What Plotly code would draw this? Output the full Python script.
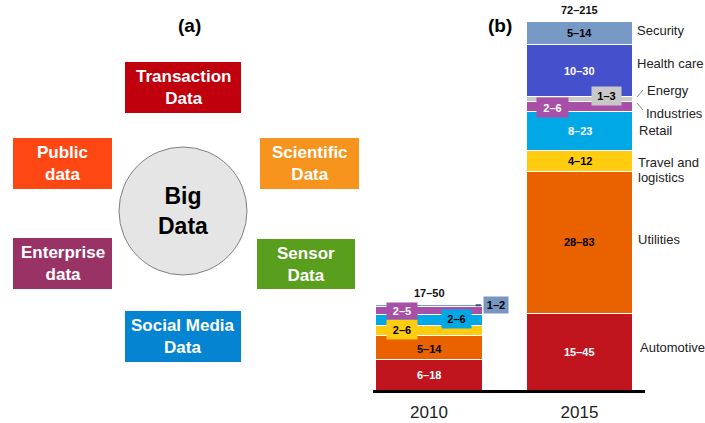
import plotly.graph_objects as go

# ---------------- data ----------------
years = ["2010", "2015"]
sectors = ["Automotive", "Utilities", "Travel and logistics", "Retail",
           "Industries", "Energy", "Health care", "Security"]
values_2010 = [18, 14, 6, 6, 5, 0, 0, 1.2]
values_2015 = [45, 83, 12, 23, 6, 3, 30, 14]
ranges_2010 = ["6–18", "5–14", "2–6", "2–6", "2–5", "", "", "1–2"]
ranges_2015 = ["15–45", "28–83", "4–12", "8–23", "2–6", "1–3", "10–30", "5–14"]
totals = ["17–50", "72–215"]
sector_colors = ["#C0141E", "#EA6200", "#FFCC10", "#00A8E6",
                 "#A84FA8", "#C8C8C8", "#4450CC", "#7799C6"]

sources = ["Transaction<br>Data", "Public<br>data", "Scientific<br>Data",
           "Enterprise<br>data", "Sensor<br>Data", "Social Media<br>Data"]
source_colors = ["#C0000D", "#FF4714", "#F7941D", "#993366", "#5A9E1E", "#0584D2"]

W, H = 705, 423
FONT = "Liberation Sans, Arial, sans-serif"


def px(x):
    return x / W


def py(y):
    return 1 - y / H


fig = go.Figure()

# ---------------- panel (b): stacked bars ----------------
for i, s in enumerate(sectors):
    fig.add_trace(go.Bar(
        x=years, y=[values_2010[i], values_2015[i]], name=s,
        marker=dict(color=sector_colors[i], line=dict(color="white", width=1)),
        width=0.705, showlegend=False, hoverinfo="name+y"))

annotations = []
shapes = []

# label styles: (text color, box color or None, dx offset in category units, box w, box h, y shift px)
style_2010 = {0: ("white", None, 0, 0, 0, 0), 1: ("black", None, 0, 0, 0, -2),
              2: ("black", "#FFCC10", -0.18, 28, 17, 1), 3: ("black", "#00A8E6", 0.183, 27, 16, 1),
              4: ("white", "#A84FA8", -0.18, 28, 14, 0), 7: ("black", "#7896C2", 0.445, 22, 14, 0)}
style_2015 = {0: ("white", None, 0, 0, 0, 0), 1: ("black", None, 0, 0, 0, 0),
              2: ("black", None, 0, 0, 0, 0), 3: ("white", None, 0, 0, 0, 0),
              4: ("white", "#A84FA8", -0.179, 29, 17, -1),
              5: ("black", "#C8C8C8", 0.179, 27, 16, 3),
              6: ("white", None, 0, 0, 0, 0), 7: ("black", None, 0, 0, 0, 0)}

for xi, (vals, labs, sty) in enumerate([(values_2010, ranges_2010, style_2010),
                                         (values_2015, ranges_2015, style_2015)]):
    cum = 0
    for i, v in enumerate(vals):
        mid = cum + v / 2
        cum += v
        if i not in sty or not labs[i]:
            continue
        col, box, dx, bw, bh, ys = sty[i]
        a = dict(x=xi + dx, y=mid, xref="x", yref="y", text="<b>%s</b>" % labs[i],
                 xanchor="center", yanchor="middle", yshift=ys,
                 showarrow=False, font=dict(family=FONT, size=11, color=col))
        if box:
            a.update(bgcolor=box, width=bw, height=bh, borderpad=1)
        annotations.append(a)
    annotations.append(dict(x=xi, y=cum, xref="x", yref="y", xanchor="center",
                            yanchor="bottom", yshift=3,
                            text="<b>%s</b>" % totals[xi], showarrow=False,
                            font=dict(family=FONT, size=11, color="#111")))

# small leader for 2010 security label
shapes.append(dict(type="line", xref="x", yref="y", x0=0.31, x1=0.345,
                   y0=sum(values_2010) - 0.6, y1=sum(values_2010) - 0.6,
                   line=dict(color="#3A4A6A", width=2)))

# right-hand sector labels (pixel positions)
right_labels = [("Security", 635, 31), ("Health care", 635, 63), ("Energy", 645, 91),
                ("Industries", 644, 113), ("Retail", 637, 130),
                ("Travel and", 636, 162), ("logistics", 636, 177), ("Utilities", 636, 239),
                ("Automotive", 638, 347)]
for t, x, y in right_labels:
    annotations.append(dict(x=px(x), y=py(y), xref="paper", yref="paper", xanchor="left",
                            yanchor="middle", text=t, showarrow=False, align="left",
                            font=dict(family=FONT, size=13, color="#222")))
for (x0, y0, x1, y1) in [(637, 97, 643, 90), (637, 103, 643, 110)]:
    shapes.append(dict(type="line", xref="paper", yref="paper", x0=px(x0), y0=py(y0),
                       x1=px(x1), y1=py(y1), line=dict(color="#888", width=1)))

# axis baseline
shapes.append(dict(type="line", xref="paper", yref="paper", x0=px(373), x1=px(645),
                   y0=py(391.5), y1=py(391.5), line=dict(color="black", width=3)))

# ---------------- panel (a): diagram ----------------
boxes = [(125, 62, 241, 113), (13, 138, 112, 189), (260, 138, 359, 189),
         (13, 238, 112, 289), (257, 239, 355, 289), (125, 311, 241, 362)]
for (x0, y0, x1, y1), t, c in zip(boxes, sources, source_colors):
    shapes.append(dict(type="rect", xref="paper", yref="paper", x0=px(x0), x1=px(x1),
                       y0=py(y1), y1=py(y0), fillcolor=c, line=dict(width=0)))
    annotations.append(dict(x=px((x0 + x1) / 2), y=py((y0 + y1) / 2), xref="paper",
                            yref="paper", xanchor="center", yanchor="middle",
                            text="<b>%s</b>" % t, showarrow=False,
                            font=dict(family=FONT, size=17, color="white")))

shapes.append(dict(type="circle", xref="paper", yref="paper", x0=px(119), x1=px(247),
                   y0=py(275), y1=py(147), fillcolor="#E5E5E5",
                   line=dict(color="#808080", width=1)))
annotations.append(dict(x=px(183), y=py(211), xref="paper", yref="paper",
                        xanchor="center", yanchor="middle",
                        text="<b>Big<br>Data</b>", showarrow=False,
                        font=dict(family=FONT, size=23, color="black")))

annotations.append(dict(x=px(189), y=py(26), xref="paper", yref="paper",
                        xanchor="center", yanchor="middle",
                        text="<b>(a)</b>", showarrow=False,
                        font=dict(family=FONT, size=19, color="black")))
annotations.append(dict(x=px(500), y=py(26), xref="paper", yref="paper",
                        xanchor="center", yanchor="middle",
                        text="<b>(b)</b>", showarrow=False,
                        font=dict(family=FONT, size=19, color="black")))

fig.update_layout(
    width=W, height=H, margin=dict(l=0, r=0, t=0, b=0),
    paper_bgcolor="white", plot_bgcolor="white", barmode="stack",
    xaxis=dict(domain=[px(373), px(645)], range=[-0.372, 1.435], type="category",
               showgrid=False, zeroline=False, showline=False, fixedrange=True,
               ticks="outside", ticklen=7, tickcolor="rgba(0,0,0,0)",
               tickfont=dict(family=FONT, size=17, color="#222")),
    yaxis=dict(domain=[py(390), py(21)], range=[0, 216], visible=False, fixedrange=True),
    annotations=annotations, shapes=shapes,
)

fig.write_html("out.html", config={"displayModeBar": False},
               post_script="document.body.style.margin='0';document.body.style.overflow='hidden';")
